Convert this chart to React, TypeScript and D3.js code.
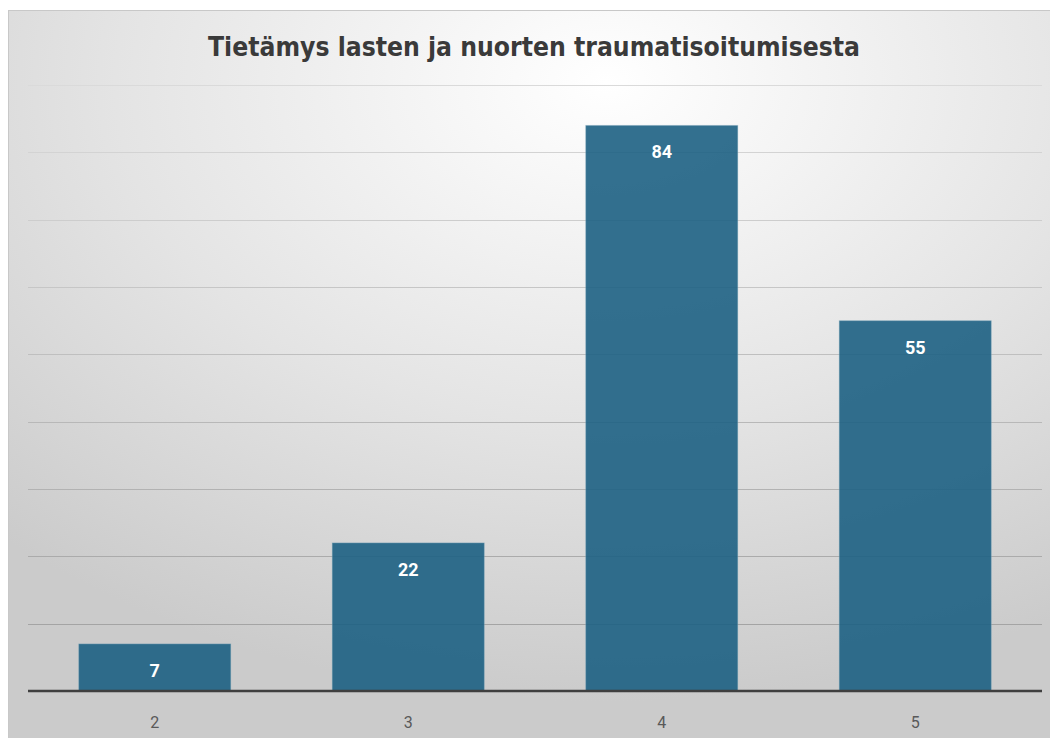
import React from "react";
import * as d3 from "d3";

const categories = ["2", "3", "4", "5"];
const values = [7, 22, 84, 55];
const yTicks = [0, 10, 20, 30, 40, 50, 60, 70, 80, 90];
const title = "Tietämys lasten ja nuorten traumatisoitumisesta";

export default function App() {
  const W = 1050;
  const H = 728;
  const left = 20;
  const right = 1034;
  const top = 75;
  const bottom = 681;

  const x = d3.scaleBand().domain(categories).range([left, right]).paddingInner(0.4).paddingOuter(0.2);
  const y = d3.scaleLinear().domain([0, 90]).range([bottom, top]);
  const gridColor = d3.scaleLinear<string>().domain([90, 10]).range(["#dadada", "#a4a4a4"]);

  return (
    <svg width={W} height={H} style={{ display: "block", marginTop: 2 }}>
      <defs>
        <radialGradient id="bg" cx="0.57" cy="0.1" r="0.85" fx="0.57" fy="0.1">
          <stop offset="0" stopColor="#ffffff" />
          <stop offset="0.55" stopColor="#e4e4e4" />
          <stop offset="1" stopColor="#cbcbcb" />
        </radialGradient>
      </defs>
      <rect x={0} y={0} width={W} height={H} fill="url(#bg)" />
      <line x1={0} y1={0.5} x2={W} y2={0.5} stroke="#c8c8c8" />
      <line x1={0.5} y1={0} x2={0.5} y2={H} stroke="#c8c8c8" />
      {yTicks.filter((t) => t > 0).map((t) => (
        <line key={t} x1={left} x2={right} y1={Math.round(y(t)) + 0.5} y2={Math.round(y(t)) + 0.5} stroke={gridColor(t)} strokeWidth={1} />
      ))}
      {categories.map((c, i) => (
        <rect key={c} x={x(c)} y={y(values[i])} width={x.bandwidth()} height={bottom - y(values[i])} fill="#1d6183" fillOpacity={0.9} stroke="#8fb4c6" strokeOpacity={0.35} strokeWidth={1} />
      ))}
      <line x1={left} x2={right} y1={bottom} y2={bottom} stroke="#3f3f3f" strokeWidth={2.5} />
      {categories.map((c, i) => (
        <text key={"v" + c} x={(x(c) as number) + x.bandwidth() / 2} y={y(values[i]) + 33} textAnchor="middle" fill="#ffffff" fontFamily="Roboto, 'Liberation Sans', sans-serif" fontWeight="bold" fontSize={18}>
          {values[i]}
        </text>
      ))}
      {categories.map((c) => (
        <text key={"c" + c} x={(x(c) as number) + x.bandwidth() / 2} y={bottom + 37} textAnchor="middle" fill="#595959" fontFamily="Roboto, 'Liberation Sans', sans-serif" fontSize={16}>
          {c}
        </text>
      ))}
      <text x={526} y={46} textAnchor="middle" fill="#3a3a3a" fontFamily="'DejaVu Sans Condensed', 'DejaVu Sans', sans-serif" fontWeight="bold" fontSize={27} textLength={652} lengthAdjust="spacingAndGlyphs">
        {title}
      </text>
    </svg>
  );
}
